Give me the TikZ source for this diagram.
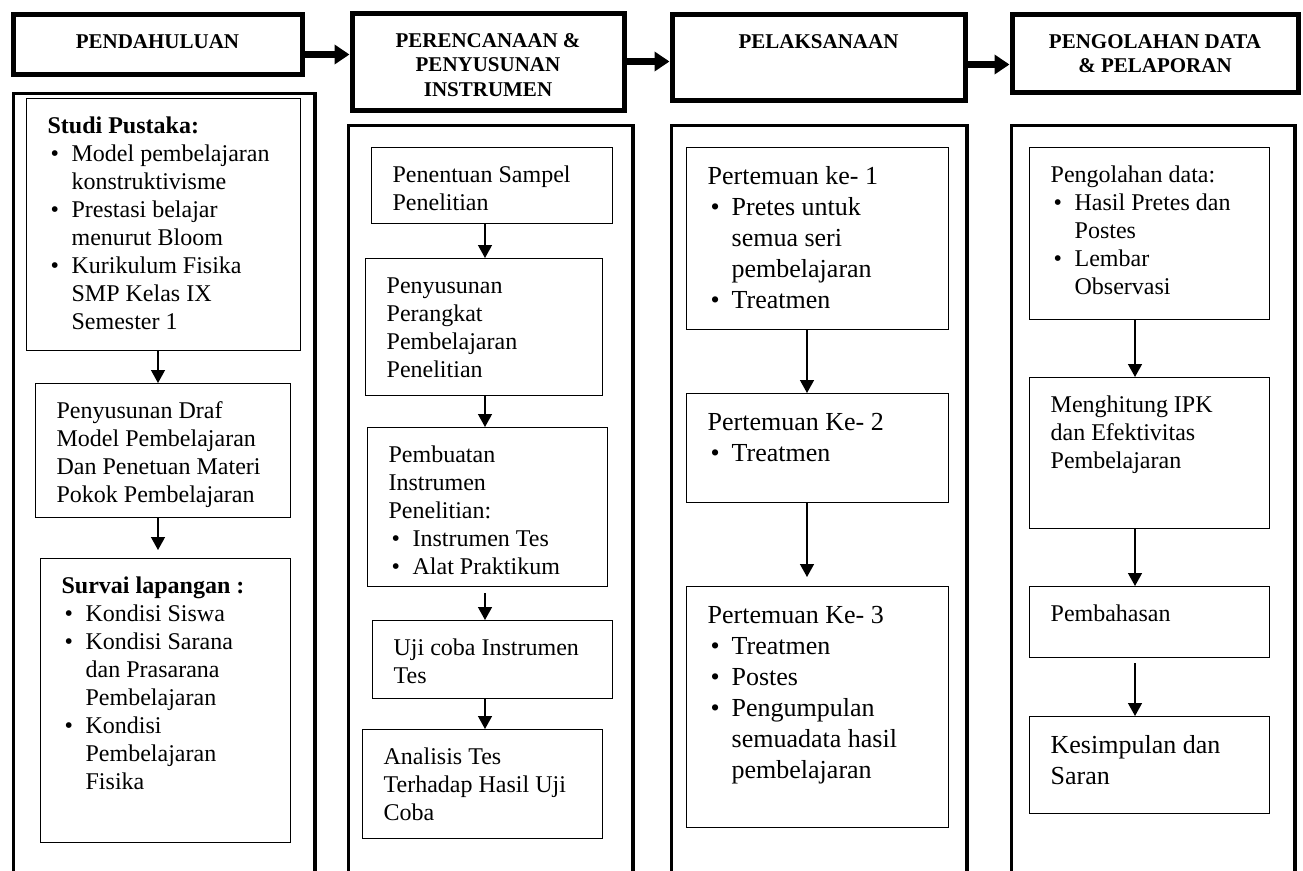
\documentclass[tikz,border=0pt]{standalone}
\usepackage{fontspec}
\setmainfont{Liberation Serif}
\usetikzlibrary{arrows.meta}

\newcommand{\bodyfont}{\fontsize{24}{28}\selectfont}
\newcommand{\largebody}{\fontsize{26}{31}\selectfont}
\newcommand{\headfont}{\fontsize{21}{24.5}\selectfont\bfseries}
% text block of a box: width, height, content
\newcommand{\headtxt}[3]{\parbox[c][#2][t]{#1}{\centering\vspace*{17pt}\strut #3}}
\newcommand{\stagetxt}[3]{\parbox[c][#2][t]{#1}{\leftskip=21pt\rightskip=0pt plus 1fil\vspace*{15pt}\strut #3}}
\newcommand{\itm}[1]{\par\hangindent=24pt\hangafter=1\noindent\strut\makebox[24pt][l]{\hspace{3pt}\textbullet}#1}

\tikzset{
  head/.style={draw, line width=5pt, inner sep=0pt, anchor=north west, font=\headfont},
  lane/.style={draw, line width=3.5pt, inner sep=0pt, anchor=north west},
  stagebox/.style={draw, line width=1.3pt, inner sep=0pt, anchor=north west, font=\bodyfont},
  bigarrow/.style={line width=6.5pt, -{Triangle[length=15pt,width=19pt]}},
  flow/.style={line width=1.4pt, -{Triangle[length=13pt,width=14pt]}},
}

\begin{document}
\begin{tikzpicture}[x=1pt,y=-1pt]
    \useasboundingbox (0,0) rectangle (1303,870);

    % headers
    \node[head] (pend) at (10.5,11.5)   {\headtxt{289pt}{60pt}{PENDAHULUAN}};
    \node[head] (renc) at (349.5,10.5)  {\headtxt{272pt}{97pt}{PERENCANAAN \&\\ PENYUSUNAN\\ INSTRUMEN}};
    \node[head] (laks) at (669.5,11.5)  {\headtxt{293pt}{86pt}{PELAKSANAAN}};
    \node[head] (olahh) at (1009.5,11.5) {\headtxt{286pt}{78pt}{PENGOLAHAN DATA\\ \& PELAPORAN}};

    \coordinate (a1) at ([yshift=-10.5pt]pend.east);
    \coordinate (a3) at ([yshift=-7.5pt]laks.east);
    \draw[bigarrow] (a1) -- (a1 -| renc.west);
    \draw[bigarrow] (renc.east) -- (renc.east -| laks.west);
    \draw[bigarrow] (a3) -- (a3 -| olahh.west);

    % columns
    \node[lane, minimum width=301.5pt, minimum height=820pt] (lane1) at (11.75,91.75) {};
    \node[lane, minimum width=284.5pt, minimum height=820pt] (lane2) at (346.75,123.75) {};
    \node[lane, minimum width=295.5pt, minimum height=820pt] (lane3) at (669.75,123.75) {};
    \node[lane, minimum width=283.5pt, minimum height=820pt] (lane4) at (1009.75,123.75) {};

    % pendahuluan
    \node[stagebox] (studi) at (26,98) {\stagetxt{274pt}{252pt}{\textbf{Studi Pustaka:}%
        \itm{Model pembelajaran\\ konstruktivisme}\itm{Prestasi belajar\\ menurut Bloom}%
        \itm{Kurikulum Fisika\\ SMP Kelas IX\\ Semester 1}}};
    \node[stagebox] (draf) at (35,383) {\stagetxt{255pt}{134pt}{Penyusunan Draf\\ Model Pembelajaran\\ Dan Penetuan Materi\\ Pokok Pembelajaran}};
    \node[stagebox] (survai) at (40,558) {\stagetxt{250pt}{284pt}{\textbf{Survai lapangan :}%
        \itm{Kondisi Siswa}\itm{Kondisi Sarana\\ dan Prasarana\\ Pembelajaran}%
        \itm{Kondisi\\ Pembelajaran\\ Fisika}}};

    % perencanaan
    \node[stagebox] (sampel) at (371,147) {\stagetxt{241pt}{76pt}{Penentuan Sampel\\ Penelitian}};
    \node[stagebox] (perangkat) at (365,258) {\stagetxt{237pt}{137pt}{Penyusunan\\ Perangkat\\ Pembelajaran\\ Penelitian}};
    \node[stagebox] (instr) at (367,427) {\stagetxt{240pt}{159pt}{Pembuatan\\ Instrumen\\ Penelitian:%
        \itm{Instrumen Tes}\itm{Alat Praktikum}}};
    \node[stagebox] (ujicoba) at (372,620) {\stagetxt{240pt}{78pt}{Uji coba Instrumen\\ Tes}};
    \node[stagebox] (analisis) at (362,729) {\stagetxt{240pt}{109pt}{Analisis Tes\\ Terhadap Hasil Uji\\ Coba}};

    % pelaksanaan
    \node[stagebox, font=\largebody] (temu1) at (686,147) {\stagetxt{262pt}{182pt}{Pertemuan ke- 1%
        \itm{Pretes untuk\\ semua seri\\ pembelajaran}\itm{Treatmen}}};
    \node[stagebox, font=\largebody] (temu2) at (686,393) {\stagetxt{262pt}{109pt}{Pertemuan Ke- 2\itm{Treatmen}}};
    \node[stagebox, font=\largebody] (temu3) at (686,586) {\stagetxt{262pt}{241pt}{Pertemuan Ke- 3%
        \itm{Treatmen}\itm{Postes}\itm{Pengumpulan\\ semuadata hasil\\ pembelajaran}}};

    % pengolahan data
    \node[stagebox] (olah) at (1029,147) {\stagetxt{240pt}{172pt}{Pengolahan data:%
        \itm{Hasil Pretes dan\\ Postes}\itm{Lembar\\ Observasi}}};
    \node[stagebox] (hitung) at (1029,377) {\stagetxt{240pt}{151pt}{Menghitung IPK\\ dan Efektivitas\\ Pembelajaran}};
    \node[stagebox] (bahas) at (1029,586) {\stagetxt{240pt}{71pt}{Pembahasan}};
    \node[stagebox, font=\largebody] (simpul) at (1029,716) {\stagetxt{240pt}{97pt}{Kesimpulan dan\\ Saran}};

    % arrows inside the columns
    \coordinate (ax1) at (158,0);
    \coordinate (ax2) at (485,0);
    \coordinate (ax3) at (807,0);
    \coordinate (ax4) at (1135,0);
    \draw[flow] (studi.south -| ax1) -- (draf.north -| ax1);
    \draw[flow, shorten >=8pt] (draf.south -| ax1) -- (survai.north -| ax1);
    \draw[flow] (sampel.south -| ax2) -- (perangkat.north -| ax2);
    \draw[flow] (perangkat.south -| ax2) -- (instr.north -| ax2);
    \draw[flow, shorten <=6pt] (instr.south -| ax2) -- (ujicoba.north -| ax2);
    \draw[flow] (ujicoba.south -| ax2) -- (analisis.north -| ax2);
    \draw[flow] (temu1.south -| ax3) -- (temu2.north -| ax3);
    \draw[flow, shorten >=9pt] (temu2.south -| ax3) -- (temu3.north -| ax3);
    \draw[flow] (olah.south -| ax4) -- (hitung.north -| ax4);
    \draw[flow] (hitung.south -| ax4) -- (bahas.north -| ax4);
    \draw[flow, shorten <=5pt] (bahas.south -| ax4) -- (simpul.north -| ax4);
\end{tikzpicture}
\end{document}
